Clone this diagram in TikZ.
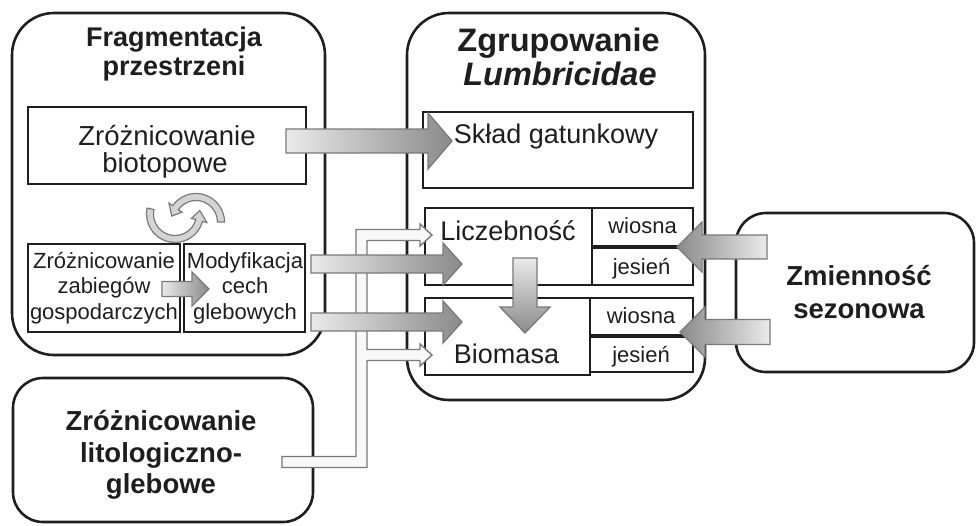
\documentclass[tikz,border=0pt]{standalone}
\usepackage{fontspec}
\setmainfont{Liberation Sans}
\usetikzlibrary{calc}
\definecolor{ink}{HTML}{1E1E1E}
\definecolor{aline}{HTML}{7A7A7A}
\definecolor{alight}{HTML}{EAEAEA}
\definecolor{adark}{HTML}{8A8A8A}
\definecolor{wfill}{HTML}{F8F8F8}
\definecolor{cfill}{HTML}{D4D4D4}
\newcommand{\fsz}[1]{\fontsize{#1}{#1}\selectfont}
% horizontal block arrow: style, x start, head base x, tip x, y, half shaft, half head
\newcommand{\hblk}[7]{\draw[blk,#1] (#2,#5-#6) -- (#3,#5-#6) -- (#3,#5-#7) -- (#4,#5) -- (#3,#5+#7) -- (#3,#5+#6) -- (#2,#5+#6) -- cycle;}
% vertical block arrow: style, x, y start, head base y, tip y, half shaft, half head
\newcommand{\vblk}[7]{\draw[blk,#1] (#2-#6,#3) -- (#2-#6,#4) -- (#2-#7,#4) -- (#2,#5) -- (#2+#7,#4) -- (#2+#6,#4) -- (#2+#6,#3) -- cycle;}
\begin{document}
\begin{tikzpicture}[x=1pt,y=-1pt,
  bigbox/.style={draw=ink, line width=2.6pt, inner sep=0pt},
  rbox/.style={draw=ink, line width=1.6pt, inner sep=0pt},
  sbox/.style={draw=ink, line width=2.4pt, inner sep=0pt},
  tb/.style={anchor=base, text=ink, inner sep=0pt},
  blk/.style={draw=aline, line width=1.3pt},
  wband/.style={draw=aline, fill=wfill, line width=1.4pt},
  carr/.style={draw=aline, fill=cfill, line width=1.2pt}]
\useasboundingbox (0,0) rectangle (976,525);

% big rounded boxes
\node[bigbox, rounded corners=42pt, minimum width=313pt, minimum height=342pt] (frag) at (168.5,184) {};
\node[bigbox, rounded corners=42pt, minimum width=298pt, minimum height=387pt] (zgr) at (556,206.5) {};
\node[bigbox, rounded corners=30pt, minimum width=238pt, minimum height=159pt] (zmi) at (855,292.5) {};
\node[bigbox, rounded corners=30pt, minimum width=300pt, minimum height=144pt] (lit) at (163,450) {};

% inner boxes
\node[rbox, minimum width=278pt, minimum height=77pt] (bio) at (167,145.5) {};
\node[sbox, minimum width=152pt, minimum height=88pt] (zab) at (104,288) {};
\node[sbox, minimum width=121pt, minimum height=88pt] (mod) at (244.5,288) {};
\node[rbox, minimum width=270pt, minimum height=76pt] (sklad) at (558,150) {};
\node[rbox, minimum width=167pt, minimum height=77pt] (licz) at (508.5,246.5) {};
\node[rbox, minimum width=101pt, minimum height=38pt] (wio1) at (642.5,227) {};
\node[rbox, minimum width=101pt, minimum height=39pt] (jes1) at (642.5,265.5) {};
\node[rbox, minimum width=165pt, minimum height=77pt] (biom) at (507.5,336.5) {};
\node[rbox, minimum width=103pt, minimum height=37pt] (wio2) at (641.5,316.5) {};
\node[rbox, minimum width=103pt, minimum height=37pt] (jes2) at (641.5,353.5) {};
\draw[ink, line width=3.5pt] (wio1.south west) -- (wio1.south east);
\draw[ink, line width=3.5pt] (wio2.south west) -- (wio2.south east);

% texts
\node[tb, font=\bfseries\fsz{27}] (fragA) at (174,46) {Fragmentacja};
\node[tb, font=\bfseries\fsz{27}] (fragB) at (174,75) {przestrzeni};
\node[tb, font=\bfseries\fsz{32.5}] (zgrA) at (558.5,51) {Zgrupowanie};
\node[tb, font=\bfseries\itshape\fsz{32.5}] (zgrB) at (560,85) {Lumbricidae};
\node[tb, font=\fsz{27.5}] (bioA) at (167,145) {Zróżnicowanie};
\node[tb, font=\fsz{27.5}] (bioB) at (165,172) {biotopowe};
\node[tb, font=\fsz{22}] (zabA) at (104,268) {Zróżnicowanie};
\node[tb, font=\fsz{22}] (zabB) at (104,293.5) {zabiegów};
\node[tb, font=\fsz{22}] (zabC) at (104,319) {gospodarczych};
\node[tb, font=\fsz{22}] (modA) at (245,268) {Modyfikacja};
\node[tb, font=\fsz{22}] (modB) at (245,293.5) {cech};
\node[tb, font=\fsz{22}] (modC) at (245,319) {glebowych};
\node[tb, font=\fsz{27}] (skladT) at (556,143) {Skład gatunkowy};
\node[tb, font=\fsz{27}] (liczT) at (508,240) {Liczebność};
\node[tb, font=\fsz{22}] (wio1T) at (642.5,233) {wiosna};
\node[tb, font=\fsz{22}] (jes1T) at (641.5,274) {jesień};
\node[tb, font=\fsz{27}] (biomT) at (506.5,363) {Biomasa};
\node[tb, font=\fsz{22}] (wio2T) at (641,323) {wiosna};
\node[tb, font=\fsz{22}] (jes2T) at (641,362) {jesień};
\node[tb, font=\bfseries\fsz{27.5}] (zmiA) at (859,285) {Zmienność};
\node[tb, font=\bfseries\fsz{27.5}] (zmiB) at (859,318) {sezonowa};
\node[tb, font=\bfseries\fsz{27.5}] (litA) at (161,430) {Zróżnicowanie};
\node[tb, font=\bfseries\fsz{27.5}] (litB) at (161,462) {litologiczno-};
\node[tb, font=\bfseries\fsz{27.5}] (litC) at (161,493) {glebowe};

% white branching band from lit box
\draw[wband] (282,456.5) -- (356,456.5) -- (356,229.5) -- (420,229.5) -- (420,224) -- (432,235)
  -- (420,246) -- (420,240.5) -- (367,240.5) -- (367,349.5) -- (420,349.5) -- (420,344)
  -- (432,355) -- (420,366) -- (420,360.5) -- (367,360.5) -- (367,467.5) -- (282,467.5) -- cycle;

% grey block arrows
\hblk{left color=alight,right color=adark}{286}{428}{452}{141}{12}{28}
\hblk{left color=alight,right color=adark}{311}{443}{462}{264}{9}{21}
\hblk{left color=alight,right color=adark}{311}{443}{462}{322}{9}{21}
\hblk{left color=alight,right color=adark}{162}{192}{209}{289}{7.5}{17}
\hblk{left color=adark,right color=alight}{767}{702}{677}{247}{12}{25}
\hblk{left color=adark,right color=alight}{770}{705}{680}{332}{12.5}{25}
\vblk{top color=alight,bottom color=adark}{525}{258}{307}{333}{12}{25}

% circular arrows
\coordinate (c1) at (196,222);
\coordinate (c2) at (175,214);
\draw[carr] ($(c1)+(0:28.5)$) arc[start angle=0,end angle=-145,radius=28.5]
  -- ($(c1)+(-145:33)$) -- ($(c1)+(-166:25)$) -- ($(c1)+(-145:17)$)
  -- ($(c1)+(-145:21.5)$) arc[start angle=-145,end angle=0,radius=21.5] -- cycle;
\draw[carr] ($(c2)+(192:28.5)$) arc[start angle=192,end angle=15,radius=28.5]
  -- ($(c2)+(15:33)$) -- ($(c2)+(-8:25)$) -- ($(c2)+(15:17)$)
  -- ($(c2)+(15:21.5)$) arc[start angle=15,end angle=192,radius=21.5] -- cycle;
\end{tikzpicture}
\end{document}
